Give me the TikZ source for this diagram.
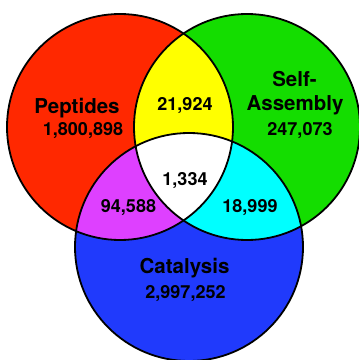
\documentclass[tikz,border=0pt]{standalone}
\usepackage{fontspec}
\setmainfont{TeX Gyre Heros}
\definecolor{pepred}{RGB}{255,40,0}
\definecolor{selfgreen}{RGB}{20,221,0}
\definecolor{catblue}{RGB}{32,58,252}
\definecolor{psyellow}{RGB}{255,255,0}
\definecolor{pcmagenta}{RGB}{222,64,255}
\definecolor{sccyan}{RGB}{0,255,255}
\begin{document}
\begin{tikzpicture}[
                            x=1pt,y=1pt,
                            setline/.style={draw=black,line width=1.8pt},
                            setname/.style={font=\bfseries\fontsize{20.5}{23}\selectfont,anchor=base},
                            setcount/.style={font=\bfseries\fontsize{18}{20}\selectfont,anchor=base}
                        ]
                        \useasboundingbox (0,0) rectangle (359,360);
                        % Centres
                        \coordinate (P) at (120,233);
                        \coordinate (S) at (247,233);
                        \coordinate (C) at (189,113);

                        % Sets
                        \fill [pepred] (P) circle (113);
                        \fill [selfgreen] (S) circle (113);
                        \fill [catblue] (C) circle (114);

                        % Overlaps
                        \begin{scope}
                            \clip (P) circle (113);
                            \fill [psyellow] (S) circle (113);
                        \end{scope}
                        \begin{scope}
                            \clip (P) circle (113);
                            \fill [pcmagenta] (C) circle (114);
                        \end{scope}
                        \begin{scope}
                            \clip (S) circle (113);
                            \fill [sccyan] (C) circle (114);
                        \end{scope}
                        \begin{scope}
                            \clip (P) circle (113);
                            \clip (S) circle (113);
                            \fill [white] (C) circle (114);
                        \end{scope}

                        % Outlines
                        \draw [setline] (P) circle (113);
                        \draw [setline] (S) circle (113);
                        \draw [setline] (C) circle (114);

                        % Labels
                        \node [setname] (peptides) at (77,247) {Peptides};
                        \node [setcount] (pepcount) at (83,225) {1,800,898};
                        \node [setcount] (pscount) at (185,250) {21,924};
                        \node [setname] (selfname) at (294.5,273) {Self-};
                        \node [setname] (assemblyname) at (295,250) {Assembly};
                        \node [setcount] (selfcount) at (300,225) {247,073};
                        \node [setcount] (allcount) at (185,175) {1,334};
                        \node [setcount] (pccount) at (128.5,148) {94,588};
                        \node [setcount] (sccount) at (250,148) {18,999};
                        \node [setname] (catalysis) at (184.5,87) {Catalysis};
                        \node [setcount] (catcount) at (185.5,61) {2,997,252};
                    \end{tikzpicture}
\end{document}
